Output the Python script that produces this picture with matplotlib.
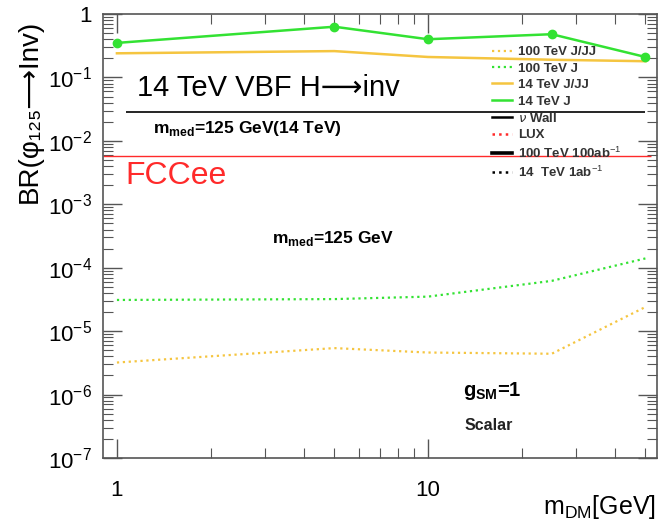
import matplotlib
matplotlib.use('Agg')
import matplotlib.pyplot as plt
from matplotlib.lines import Line2D
from matplotlib.ticker import LogLocator, NullFormatter, FixedLocator

plt.rcParams['font.family'] = ['Liberation Sans', 'DejaVu Sans']
plt.rcParams['mathtext.fontset'] = 'custom'
plt.rcParams['mathtext.rm'] = 'Liberation Sans'
plt.rcParams['mathtext.bf'] = 'Liberation Sans:bold'

# dark matter masses (GeV)
m_dm = [1, 5, 10, 25, 50]

# branching ratio limits
br_14_j = [0.35, 0.63, 0.40, 0.48, 0.21]
br_14_jjj = [0.24, 0.26, 0.21, 0.19, 0.18]
br_100_j = [3.1e-5, 3.2e-5, 3.5e-5, 6.2e-5, 1.4e-4]
br_100_jjj = [3.2e-6, 5.4e-6, 4.6e-6, 4.4e-6, 2.4e-5]

# horizontal reference limits
vbf_limit = 0.028
fccee_limit = 0.0057

green = '#33e233'
gold = '#f5c540'
red = '#ff2a2a'

fig = plt.figure(figsize=(6.59, 5.26), dpi=100)
ax = fig.add_axes([0.1563, 0.1293, 0.8407, 0.8441])

ax.plot(m_dm, br_100_jjj, color=gold, ls=':', lw=1.6)
ax.plot(m_dm, br_100_j, color=green, ls=':', lw=1.6)
ax.plot(m_dm, br_14_jjj, color=gold, ls='-', lw=1.8)
ax.plot(m_dm, br_14_j, color=green, ls='-', lw=1.8, marker='o', ms=6)

ax.hlines(vbf_limit, 1.07, 50, color='black', lw=1.2)
ax.hlines(fccee_limit, 0.90, 52, color=red, lw=1.0)

ax.set_xscale('log')
ax.set_yscale('log')
ax.set_xlim(0.902, 54.5)
ax.set_ylim(1e-7, 1.0)

ax.xaxis.set_major_locator(FixedLocator([1, 10]))
ax.xaxis.set_minor_locator(FixedLocator([2, 3, 4, 5, 6, 7, 8, 9, 20, 30, 40, 50]))
ax.xaxis.set_minor_formatter(NullFormatter())
ax.set_xticklabels(['1', '10'])
ax.yaxis.set_minor_locator(LogLocator(base=10, subs=range(2, 10), numticks=20))
ax.yaxis.set_minor_formatter(NullFormatter())
ax.set_yticks([1, 1e-1, 1e-2, 1e-3, 1e-4, 1e-5, 1e-6, 1e-7])
ax.set_yticklabels(['1', r'$10^{-1}$', r'$10^{-2}$', r'$10^{-3}$', r'$10^{-4}$',
                    r'$10^{-5}$', r'$10^{-6}$', r'$10^{-7}$'])

ax.tick_params(which='both', direction='in', top=True, right=True,
               labelsize=16, color='#555555')
ax.tick_params(which='major', length=14, width=1.0, pad=8)
ax.tick_params(which='minor', length=7, width=0.8)
ax.tick_params(axis='x', pad=16)
for s in ax.spines.values():
    s.set_color('#555555')
    s.set_linewidth(1.2)

# plain text label so the long arrow comes from DejaVu Sans
ax.set_ylabel('BR(φ₁₂₅⟶Inv)', fontsize=20)
ax.yaxis.set_label_coords(-0.108, 0.78)
fig.text(0.995, 0.01, r'm$_{\mathregular{DM}}$[GeV]', fontsize=18,
         ha='right', va='bottom')

ax.text(0.061, 0.833, '14 TeV VBF H⟶inv', transform=ax.transAxes,
        fontsize=21, color='black', va='center')
ax.text(0.090, 0.743, r'm$_{\mathbf{med}}$=125 GeV(14 TeV)',
        transform=ax.transAxes, fontsize=12.5, fontweight='bold', va='center')
ax.text(0.040, 0.635, 'FCCee', transform=ax.transAxes, fontsize=23,
        color=red, va='center')
ax.text(0.305, 0.495, r'm$_{\mathbf{med}}$=125 GeV', transform=ax.transAxes,
        fontsize=12.5, fontweight='bold', va='center')
ax.text(0.650, 0.150, r'g$_{\mathbf{SM}}$=1', transform=ax.transAxes,
        fontsize=14.5, fontweight='bold', va='center')
ax.text(0.652, 0.074, 'Scalar', transform=ax.transAxes, fontsize=11.5,
        fontweight='bold', va='center', color='#222222')

handles = [
    Line2D([], [], color=gold, ls=':', lw=1.6),
    Line2D([], [], color=green, ls=':', lw=1.6),
    Line2D([], [], color=gold, ls='-', lw=1.8),
    Line2D([], [], color=green, ls='-', lw=1.8),
    Line2D([], [], color='black', lw=1.8),
    Line2D([], [], color=red, ls=':', lw=1.8),
    Line2D([], [], color='black', lw=2.6),
    Line2D([], [], color='black', ls=':', lw=1.8),
]
labels = ['100 TeV J/JJ', '100 TeV J', '14 TeV J/JJ', '14 TeV J',
          r'$\nu$ Wall', 'LUX', r'100 TeV 100ab$^{-1}$', r'14  TeV 1ab$^{-1}$']
leg = ax.legend(handles, labels, loc='upper left',
                bbox_to_anchor=(0.702, 0.928), frameon=False,
                fontsize=9.5, handlelength=1.5, labelspacing=0.32,
                handletextpad=0.5, borderpad=0.0, borderaxespad=0.0)
for t in leg.get_texts():
    t.set_fontweight('bold')
    t.set_color('#333333')

fig.savefig('out.png', dpi=100)
